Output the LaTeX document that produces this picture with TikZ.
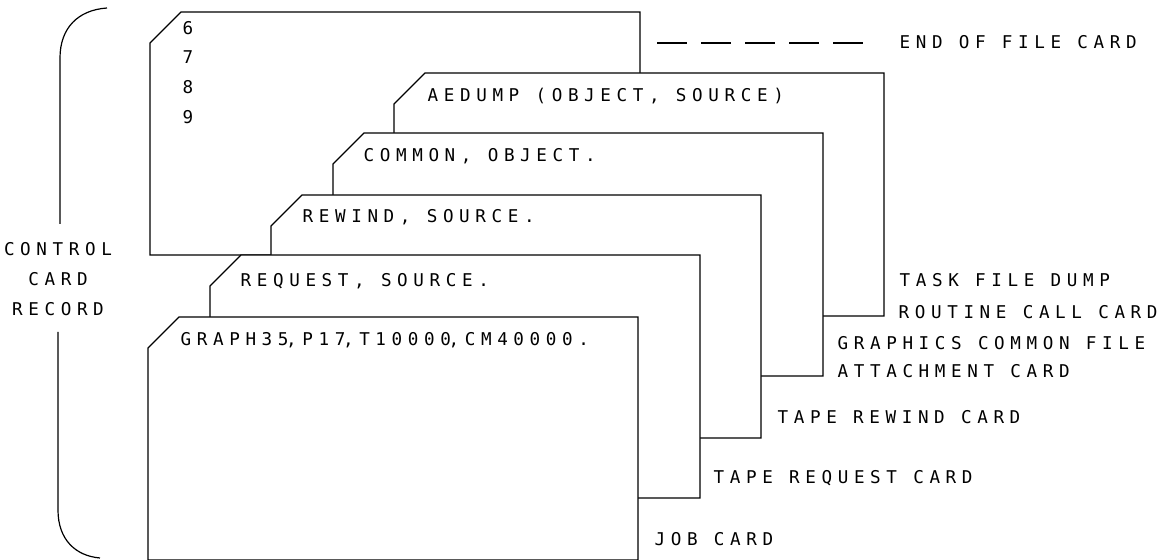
\documentclass[tikz,border=0pt]{standalone}
\usepackage{fontspec}
\newfontfamily\plotter{DejaVu Sans Mono}[LetterSpace=32]
\usepackage{tikz}
\usetikzlibrary{calc}
% card with the top left corner clipped: x, y of the top left
\newcommand{\pcard}[2]{%
  \draw[card] (#1,#2+31) -- (#1+31,#2) -- (#1+490,#2) -- (#1+490,#2+243) -- (#1,#2+243) -- cycle;}
% the plotter sets commas narrow
\newcommand{\cma}{\kern-1.2pt,}

\begin{document}
\begin{tikzpicture}[x=0.5pt,y=-0.5pt,line width=0.6pt,
  card/.style={fill=white,line join=miter},
  lbl/.style={font={\plotter\fontsize{8.8}{15}\selectfont},anchor=base west,inner sep=0pt},
  eofdash/.style={dash pattern=on 15pt off 7pt}]
\useasboundingbox (0,0) rectangle (1164,560);
% the deck, back to front
\pcard{150}{12}
\pcard{394}{73}
\pcard{333}{133}
\pcard{271}{195}
\pcard{210}{255}
\pcard{148}{317}
% text punched on the cards
\node[lbl] (n6) at (182,35) {6};
\node[lbl] (n7) at (182,64) {7};
\node[lbl] (n8) at (182,94) {8};
\node[lbl] (n9) at (182,124) {9};
\node[lbl] (dump) at (427,102) {AEDUMP (OBJECT, SOURCE)};
\node[lbl] (common) at (363,162) {COMMON, OBJECT.};
\node[lbl] (rewind) at (302,223) {REWIND, SOURCE.};
\node[lbl] (request) at (240,287) {REQUEST, SOURCE.};
\node[lbl] (job) at (180,346) {GRAPH35\cma P17\cma T10000\cma CM40000.};
% names of the cards
\node[lbl] (eof) at (899,49) {END OF FILE CARD};
\node[lbl] (task) at (899,287) {TASK FILE DUMP};
\node[lbl] (routine) at (898,319) {ROUTINE CALL CARD};
\node[lbl] (graphics) at (837,350) {GRAPHICS COMMON FILE};
\node[lbl] (attach) at (837,378) {ATTACHMENT CARD};
\node[lbl] (taperew) at (777,424) {TAPE REWIND CARD};
\node[lbl] (tapereq) at (713,484) {TAPE REQUEST CARD};
\node[lbl] (jobname) at (654,546) {JOB CARD};
\coordinate (eofstart) at (657,43);
\draw[eofdash] (eofstart) -- ($(eofstart -| eof.west)+(-29,0)$);
% bracket round the whole record
\node[lbl,anchor=center,align=center] (record) at (58,279) {CONTROL\\CARD\\RECORD};
\draw (107,8) .. controls (78,10) and (60,28) .. (60,58) -- (60,224);
\draw (58,332) -- (58,510) .. controls (58,540) and (76,556) .. (100,558);
\end{tikzpicture}
\end{document}
